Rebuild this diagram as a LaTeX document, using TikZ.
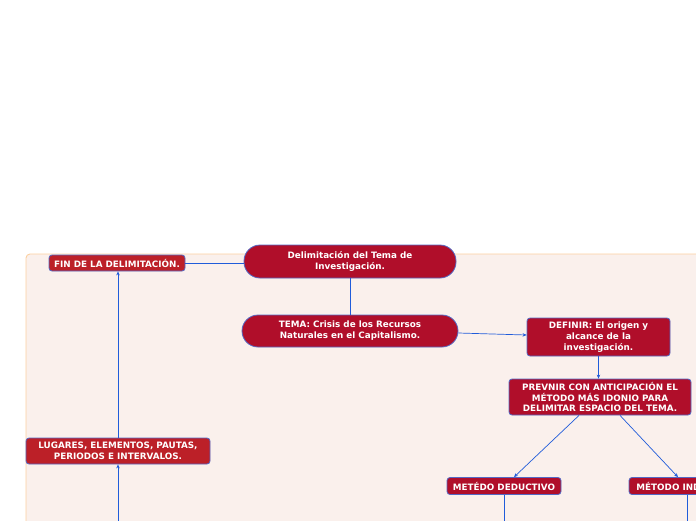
\documentclass[tikz,border=0pt]{standalone}
\usepackage{fontspec}
\setmainfont{DejaVu Sans}
\usetikzlibrary{arrows.meta, positioning}

\definecolor{crimson}{RGB}{176,14,42}
\definecolor{brick}{RGB}{188,32,40}
\definecolor{edgeblue}{RGB}{84,104,196}
\definecolor{lineblue}{RGB}{32,92,218}
\definecolor{panel}{RGB}{250,240,236}
\definecolor{panelborder}{RGB}{252,208,160}

\tikzset{
  topic/.style={draw=edgeblue, fill=crimson, text=white, align=center, inner sep=0pt,
    font=\fontsize{8.8}{10.9}\selectfont\bfseries, line width=0.8pt},
  pill/.style={topic, rounded corners=16pt},
  tag/.style={topic, rounded corners=3pt},
  conn/.style={draw=lineblue, line width=0.7pt},
  arr/.style={conn, -{Stealth[length=4pt, width=3.5pt]}}
}

\begin{document}
\begin{tikzpicture}[x=1pt, y=-1pt]

\useasboundingbox (0,0) rectangle (696,520);
\clip (0,0) rectangle (696,520);

% Background panel
\draw[fill=panel, draw=panelborder, line width=0.9pt, rounded corners=4pt] (26,254) rectangle (730,560);

% Main topics
\node[pill, minimum width=212pt, minimum height=33pt] (delim) at (350,261.5) {Delimitación del Tema de\\Investigación.};
\node[pill, minimum width=216pt, minimum height=32pt] (tema) at (350,331) {TEMA: Crisis de los Recursos\\Naturales en el Capitalismo.};

% Subtopics
\node[tag, fill=brick, minimum width=136pt, minimum height=16pt] (fin) at (117,263) {FIN DE LA DELIMITACIÓN.};
\node[tag, minimum width=143pt, minimum height=38pt] (definir) at (598.5,337) {DEFINIR: El origen y\\alcance de la\\investigación.};
\node[tag, minimum width=182pt, minimum height=36pt] (prevnir) at (600,397) {PREVNIR CON ANTICIPACIÓN EL\\MÉTODO MÁS IDONIO PARA\\DELIMITAR ESPACIO DEL TEMA.};
\node[tag, fill=brick, minimum width=184pt, minimum height=26pt] (lugares) at (118,451) {LUGARES, ELEMENTOS, PAUTAS,\\PERIODOS E INTERVALOS.};
\node[tag, minimum width=114pt, minimum height=17pt] (deductivo) at (504,486) {METÉDO DEDUCTIVO};
\node[tag, minimum width=116pt, minimum height=17pt] (inductivo) at (687,486) {MÉTODO INDUCTIVO};

% Loose ends below the frame
\coordinate (lugbot) at (118,540);
\coordinate (dedbot) at (504,540);
\coordinate (indbot) at (687,540);

% Connectors
\draw[conn] (fin.east) -- (fin.east -| delim.west);
\draw[conn] (delim) -- (tema);
\draw[arr] ([yshift=-2pt]tema.east) -- ([yshift=2pt]definir.west);
\draw[arr] (definir.south) -- (definir.south |- prevnir.north);
\draw[arr] ([xshift=-21pt]prevnir.south) -- ([xshift=10pt]deductivo.north);
\draw[arr] ([xshift=20pt]prevnir.south) -- ([xshift=-9pt]inductivo.north);
\draw[arr] (lugares.north) -- (lugares.north |- fin.south);
\draw[arr] (lugbot) -- (lugares.south);
\draw[conn] (deductivo) -- (dedbot);
\draw[conn] (inductivo) -- (indbot);

\end{tikzpicture}
\end{document}
